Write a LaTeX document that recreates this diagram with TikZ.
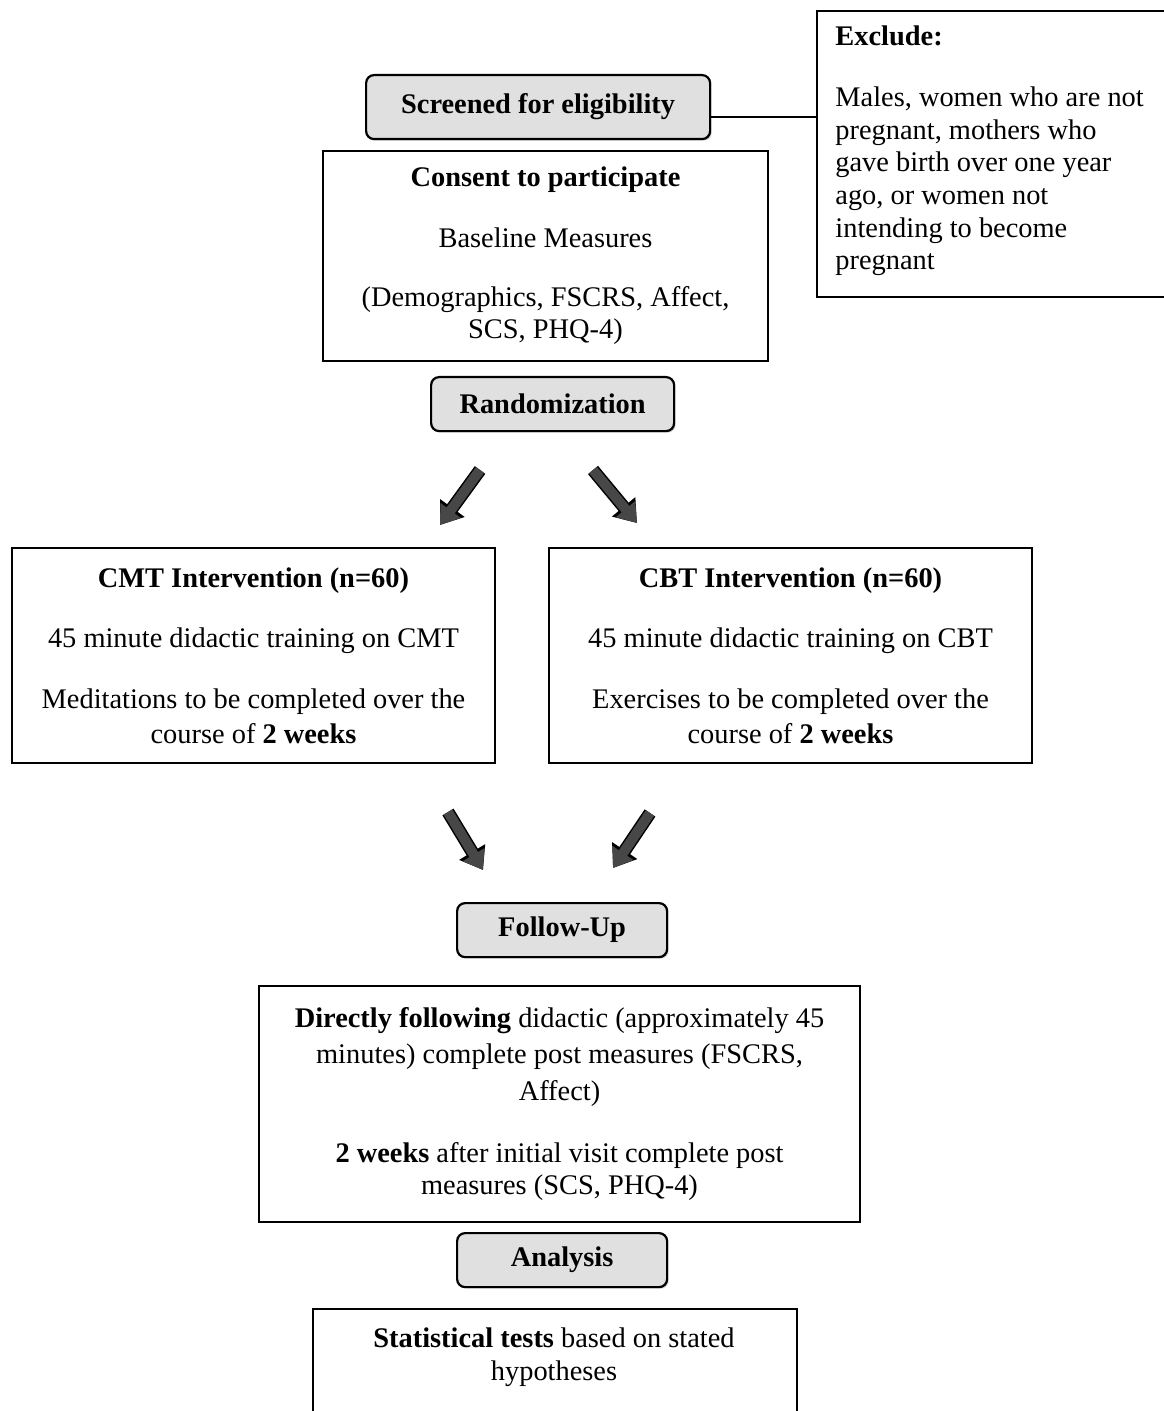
\documentclass[tikz,border=0pt]{standalone}
\usepackage{fontspec}
\setmainfont{Liberation Serif}
\usetikzlibrary{%
  arrows.meta,%
  shadows,%
}

\begin{document}
\begin{tikzpicture}[x=0.5pt, y=-0.5pt, font=\fontsize{14.2}{16.3}\selectfont,
    plainbox/.style={draw, line width=1pt, anchor=north west, align=center, inner sep=0pt},
    stagebox/.style={draw, line width=1.1pt, rounded corners=4pt, fill=black!12, anchor=north west,
      font=\fontsize{14.2}{16.3}\selectfont\bfseries,
      drop shadow={shadow xshift=0.8pt, shadow yshift=-0.8pt, fill=black!35}},
    blockarrow/.style={line width=5pt, draw=black!72, -{Triangle[length=9pt, width=12pt]},
      preaction={draw=black, line width=6.5pt, -{Triangle[length=10.5pt, width=14.5pt]}}}]
      \path [use as bounding box, fill=white] (0,0) rectangle (1163,1411);
      % screening and exclusion
      \node [plainbox, minimum width=180pt, minimum height=143pt] (exclude) at (816,10) {};
      \node [anchor=north west, align=left, inner sep=0pt] (exclude-txt) at (835,25)
        {\textbf{Exclude:}\\[14.5pt] Males, women who are not\\ pregnant, mothers who\\ gave birth over one year\\ ago, or women not\\ intending to become\\ pregnant};
      \node [stagebox, minimum width=172pt, minimum height=32pt] (screen) at (365,74) {Screened for eligibility};
      \draw [line width=1pt] ([yshift=-5pt]screen.east) -- ([yshift=-5pt]screen.east -| exclude.west);
      \node [plainbox, minimum width=222.5pt, minimum height=105pt] (consent) at (322,150)
        {\textbf{Consent to participate}\\[14pt] Baseline Measures\\[13pt] (Demographics, FSCRS, Affect,\\ SCS, PHQ-4)};
      \node [stagebox, minimum width=121.5pt, minimum height=27pt] (random) at (430,376) {Randomization};
      % split into the two arms
      \coordinate (split-l-start) at (480,470);
      \coordinate (split-l-end) at (440,525);
      \coordinate (split-r-start) at (593,470);
      \coordinate (split-r-end) at (637,523);
      \draw [blockarrow] (split-l-start) -- (split-l-end);
      \draw [blockarrow] (split-r-start) -- (split-r-end);
      \node [plainbox, minimum width=241.5pt, minimum height=107.5pt] (cmt) at (11,547)
        {\textbf{CMT Intervention (n=60)}\\[14pt] 45 minute didactic training on CMT\\[14pt] Meditations to be completed over the\\[1pt] course of \textbf{2 weeks}};
      \node [plainbox, minimum width=241.5pt, minimum height=107.5pt] (cbt) at (548,547)
        {\textbf{CBT Intervention (n=60)}\\[14pt] 45 minute didactic training on CBT\\[14pt] Exercises to be completed over the\\[1pt] course of \textbf{2 weeks}};
      % join again
      \coordinate (join-l-start) at (448,812);
      \coordinate (join-l-end) at (483,870);
      \coordinate (join-r-start) at (650,813);
      \coordinate (join-r-end) at (613,868);
      \draw [blockarrow] (join-l-start) -- (join-l-end);
      \draw [blockarrow] (join-r-start) -- (join-r-end);
      \node [stagebox, minimum width=105pt, minimum height=27pt] (follow) at (456,902) {Follow-Up};
      \node [plainbox, minimum width=300.5pt, minimum height=118pt] (direct) at (258,985)
        {\textbf{Directly following} didactic (approximately 45\\[2pt] minutes) complete post measures (FSCRS,\\[2pt] Affect)\\[14.5pt] \textbf{2 weeks} after initial visit complete post\\ measures (SCS, PHQ-4)};
      \node [stagebox, minimum width=105pt, minimum height=27pt] (analysis) at (456,1232) {Analysis};
      \node [plainbox, minimum width=242pt, minimum height=70pt] (stats) at (312,1308) {};
      \node [align=center, inner sep=0pt] (stats-txt) at (554,1357) {\textbf{Statistical tests} based on stated\\ hypotheses};
    \end{tikzpicture}
\end{document}
